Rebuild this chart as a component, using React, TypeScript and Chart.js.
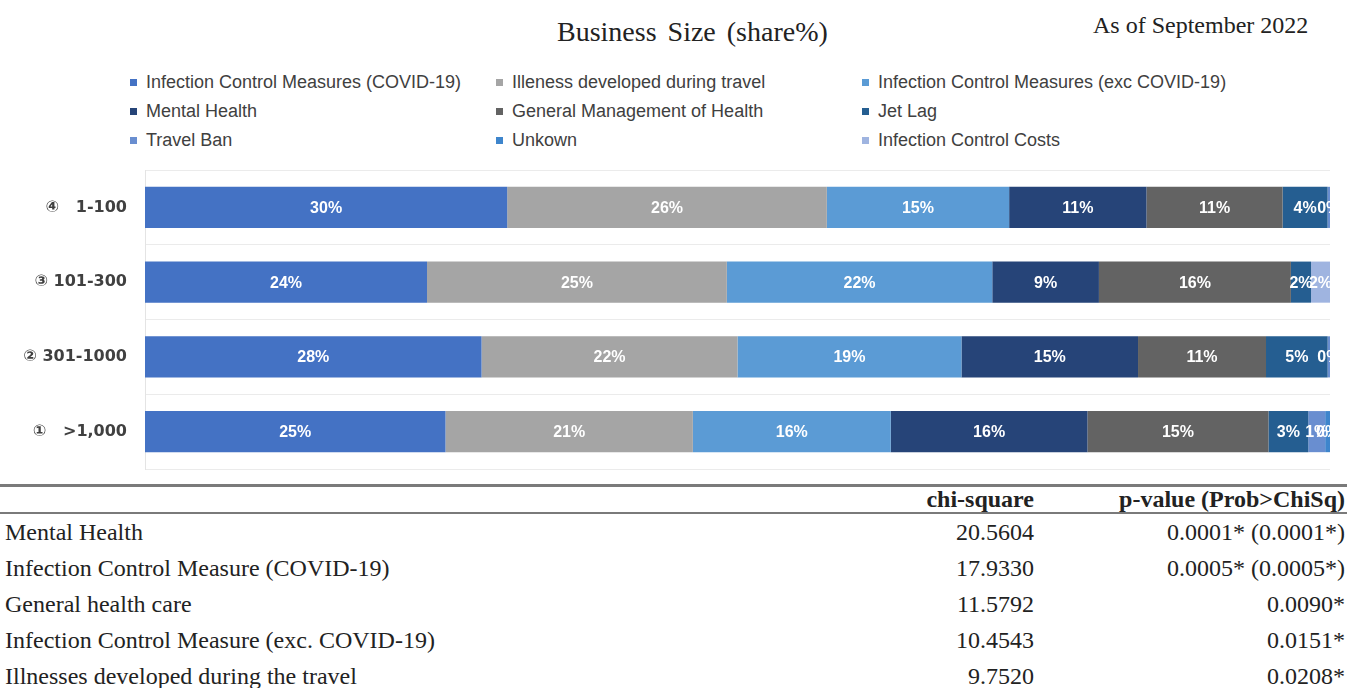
import React, { useEffect, useRef } from 'react';
import { Chart, registerables } from 'chart.js';

Chart.register(...registerables);

const TITLE = 'Business Size (share%)';
const DATE_NOTE = 'As of September 2022';

const CATEGORIES = ['④   1-100', '③ 101-300', '② 301-1000', '①   >1,000'];

const SERIES_NAMES = [
  'Infection Control Measures (COVID-19)',
  'Illeness developed during travel',
  'Infection Control Measures (exc COVID-19)',
  'Mental Health',
  'General Management of Health',
  'Jet Lag',
  'Travel Ban',
  'Unkown',
  'Infection Control Costs',
];

const SERIES_COLORS = [
  '#4472C4',
  '#A5A5A5',
  '#5B9BD5',
  '#264478',
  '#636363',
  '#255E91',
  '#698ED0',
  '#3E85CC',
  '#9FB4E0',
];

// raw shares (%) per business size, order: 1-100, 101-300, 301-1000, >1,000
const COVID = [29.8, 23.8, 28.4, 24.9];
const ILLNESS = [26.3, 25.3, 21.6, 20.5];
const EXC_COVID = [15.0, 22.4, 18.9, 16.4];
const MENTAL = [11.3, 9.0, 14.9, 16.3];
const GENERAL = [11.2, 16.2, 10.8, 15.0];
const JET_LAG = [3.7, 1.7, 5.2, 3.3];
const TRAVEL_BAN = [0.2, 0, 0.2, 1.4];
const UNKNOWN = [0, 0, 0, 0.4];
const COSTS = [0, 1.6, 0, 0];

const SERIES_VALUES = [COVID, ILLNESS, EXC_COVID, MENTAL, GENERAL, JET_LAG, TRAVEL_BAN, UNKNOWN, COSTS];

const TABLE_FACTORS = [
  'Mental Health',
  'Infection Control Measure (COVID-19)',
  'General health care',
  'Infection Control Measure (exc. COVID-19)',
  'Illnesses developed during the travel',
];
const CHI_SQUARE = ['20.5604', '17.9330', '11.5792', '10.4543', '9.7520'];
const P_VALUES = ['0.0001* (0.0001*)', '0.0005* (0.0005*)', '0.0090*', '0.0151*', '0.0208*'];

const SANS = '"Liberation Sans", Arial, sans-serif';
const SERIF = '"Liberation Serif", "Times New Roman", serif';

const barLabelPlugin = {
  id: 'barLabels',
  afterDatasetsDraw(chart: any) {
    const ctx = chart.ctx;
    ctx.save();
    ctx.font = `bold 16px ${SANS}`;
    ctx.fillStyle = '#ffffff';
    ctx.textAlign = 'center';
    ctx.textBaseline = 'middle';
    chart.data.datasets.forEach((ds: any, di: number) => {
      const meta = chart.getDatasetMeta(di);
      meta.data.forEach((el: any, i: number) => {
        const raw = ds.rawValues[i];
        if (!raw) return;
        const p = el.getProps(['x', 'base', 'y'], true);
        ctx.fillText(Math.round(raw) + '%', (p.x + p.base) / 2, p.y + 1);
      });
    });
    ctx.restore();
  },
};

function ChartCanvas() {
  const ref = useRef<HTMLCanvasElement | null>(null);
  useEffect(() => {
    if (!ref.current) return;
    const totals = CATEGORIES.map((_, i) => SERIES_VALUES.reduce((s, arr) => s + arr[i], 0));
    const datasets = SERIES_VALUES.map((arr, si) => ({
      label: SERIES_NAMES[si],
      data: arr.map((v, i) => (v / totals[i]) * 100),
      rawValues: arr,
      backgroundColor: SERIES_COLORS[si],
      borderWidth: 0,
      barPercentage: 0.55,
      categoryPercentage: 1,
    }));
    const chart = new Chart(ref.current, {
      type: 'bar',
      data: { labels: CATEGORIES, datasets: datasets as any },
      options: {
        indexAxis: 'y',
        responsive: false,
        animation: false,
        devicePixelRatio: 1,
        layout: { padding: { left: 0, right: 17, top: 5, bottom: 6 } },
        plugins: {
          legend: { display: false },
          tooltip: { enabled: false },
          title: { display: false },
        },
        scales: {
          x: { stacked: true, min: 0, max: 100, display: false },
          y: {
            stacked: true,
            afterFit: (scale: any) => {
              scale.width = 145;
              scale.paddingTop = 0;
              scale.paddingBottom = 0;
            },
            grid: { color: '#EBEBEB', drawTicks: false, offset: true },
            border: { color: '#E4E4E4' },
            ticks: {
              padding: 18,
              color: '#404040',
              font: { family: '"DejaVu Sans", sans-serif', weight: 'bold', size: 16 },
            },
          },
        },
      },
      plugins: [barLabelPlugin],
    });
    return () => chart.destroy();
  }, []);
  return (
    <canvas
      ref={ref}
      width={1347}
      height={310}
      style={{ position: 'absolute', left: 0, top: 165, width: 1347, height: 310 }}
    />
  );
}

export default function App() {
  const legendCols = [130, 496, 862];
  const legendRows = [82, 111, 140];
  return (
    <div
      style={{
        position: 'absolute',
        left: 0,
        top: 0,
        width: 1347,
        height: 688,
        background: '#ffffff',
        overflow: 'hidden',
      }}
    >
      <div
        style={{
          position: 'absolute',
          left: 557,
          top: 14,
          fontFamily: SERIF,
          fontSize: 28,
          lineHeight: '36px',
          wordSpacing: 4,
          color: '#222',
          whiteSpace: 'nowrap',
        }}
      >
        {TITLE}
      </div>
      <div
        style={{
          position: 'absolute',
          left: 1093,
          top: 10,
          fontFamily: SERIF,
          fontSize: 24,
          lineHeight: '30px',
          color: '#222',
          whiteSpace: 'nowrap',
        }}
      >
        {DATE_NOTE}
      </div>
      {SERIES_NAMES.map((name, i) => {
        const x = legendCols[i % 3];
        const y = legendRows[Math.floor(i / 3)];
        return (
          <div key={name}>
            <div
              style={{
                position: 'absolute',
                left: x,
                top: y - 3,
                width: 7,
                height: 7,
                background: SERIES_COLORS[i],
              }}
            />
            <div
              style={{
                position: 'absolute',
                left: x + 16,
                top: y - 12,
                height: 24,
                lineHeight: '24px',
                fontFamily: SANS,
                fontSize: 18,
                color: '#404040',
                whiteSpace: 'nowrap',
              }}
            >
              {name}
            </div>
          </div>
        );
      })}
      <ChartCanvas />
      <div style={{ position: 'absolute', left: 0, top: 484, width: 1347, height: 3, background: '#7A7A7A' }} />
      <div style={{ position: 'absolute', left: 0, top: 512, width: 1347, height: 2, background: '#7A7A7A' }} />
      <div
        style={{
          position: 'absolute',
          right: 1347 - 1034,
          top: 487,
          lineHeight: '25px',
          fontFamily: SERIF,
          fontWeight: 'bold',
          fontSize: 24,
          color: '#222',
          whiteSpace: 'nowrap',
        }}
      >
        chi-square
      </div>
      <div
        style={{
          position: 'absolute',
          right: 2,
          top: 487,
          lineHeight: '25px',
          fontFamily: SERIF,
          fontWeight: 'bold',
          fontSize: 24,
          color: '#222',
          whiteSpace: 'nowrap',
        }}
      >
        p-value (Prob&gt;ChiSq)
      </div>
      {TABLE_FACTORS.map((f, i) => {
        const cy = 532 + i * 36;
        const common: React.CSSProperties = {
          position: 'absolute',
          top: cy - 18,
          height: 36,
          lineHeight: '36px',
          fontFamily: SERIF,
          fontSize: 24,
          color: '#222',
          whiteSpace: 'nowrap',
        };
        return (
          <div key={f}>
            <div style={{ ...common, left: 5 }}>{f}</div>
            <div style={{ ...common, right: 1347 - 1034 }}>{CHI_SQUARE[i]}</div>
            <div style={{ ...common, right: 2 }}>{P_VALUES[i]}</div>
          </div>
        );
      })}
    </div>
  );
}
